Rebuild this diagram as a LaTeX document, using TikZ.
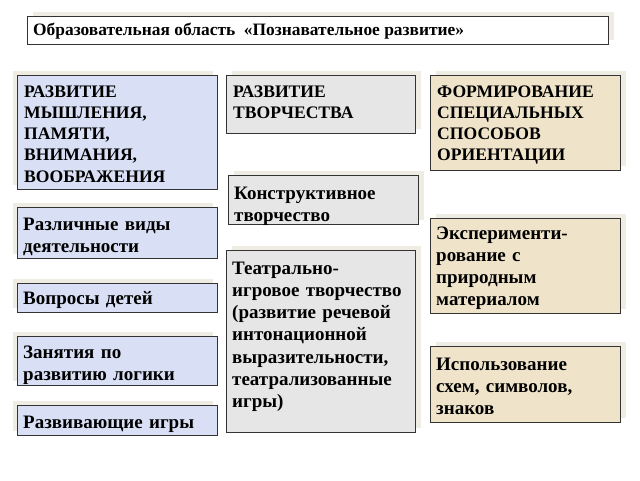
\documentclass[tikz,border=0pt]{standalone}
\usepackage{fontspec}
\setmainfont{Liberation Serif}
\usetikzlibrary{shadows,calc}
\definecolor{cL}{HTML}{D9E0F6}
\definecolor{cM}{HTML}{E6E6E6}
\definecolor{cR}{HTML}{EFE4CA}
\definecolor{cS}{HTML}{EEECE3}
\definecolor{cB}{HTML}{333333}
\tikzset{
  bx/.style={draw=cB, line width=1.4pt, rectangle, inner sep=0pt},
  shL/.style={general shadow={shadow xshift=-5pt, shadow yshift=5pt, fill=cS}},
  shR/.style={general shadow={shadow xshift=5pt, shadow yshift=5pt, fill=cS}},
  txt/.style={anchor=base west, align=left, inner sep=0pt, font=\fontsize{19}{22.3}\selectfont\bfseries},
  txtcaps/.style={anchor=base west, align=left, inner sep=0pt, font=\fontsize{17.6}{21.3}\selectfont\bfseries},
}
\begin{document}
\begin{tikzpicture}[x=1pt,y=-1pt]
\useasboundingbox[fill=white] (0,0) rectangle (640,480);
% title
\node[bx, fill=white, shR, anchor=north west, minimum width=581pt, minimum height=28pt] (title) at (27,16) {};
\node[anchor=west, inner sep=0pt, font=\fontsize{17.4}{19}\selectfont\bfseries] (titletext) at ($(title.west)+(6,0.5)$) {Образовательная область \ «Познавательное развитие»};
% left column
\node[bx, fill=cL, shL, anchor=north west, minimum width=200pt, minimum height=114pt] (l1) at (17,75) {};
\node[txtcaps, text width=195pt] (l1t) at (24,97) {РАЗВИТИЕ\\МЫШЛЕНИЯ,\\ПАМЯТИ,\\ВНИМАНИЯ,\\ВООБРАЖЕНИЯ};
\node[bx, fill=cL, shL, anchor=north west, minimum width=200pt, minimum height=51pt] (l2) at (17,207) {};
\node[txt, text width=195pt] (l2t) at (23,230) {Различные виды\\деятельности};
\node[bx, fill=cL, shL, anchor=north west, minimum width=200pt, minimum height=29pt] (l3) at (17,283) {};
\node[txt, text width=195pt] (l3t) at (23,304) {Вопросы детей};
\node[bx, fill=cL, shL, anchor=north west, minimum width=200pt, minimum height=49pt] (l4) at (17,336) {};
\node[txt, text width=195pt] (l4t) at (23,358) {Занятия по\\развитию логики};
\node[bx, fill=cL, shL, anchor=north west, minimum width=200pt, minimum height=30pt] (l5) at (17,405) {};
\node[txt, text width=195pt] (l5t) at (23,428) {Развивающие игры};
% middle column
\node[bx, fill=cM, shR, anchor=north west, minimum width=189pt, minimum height=58pt] (m1) at (226,75) {};
\node[txtcaps, text width=185pt] (m1t) at (233,97) {РАЗВИТИЕ\\ТВОРЧЕСТВА};
\node[bx, fill=cM, shR, anchor=north west, minimum width=190pt, minimum height=49pt] (m2) at (228,175) {};
\node[txt, text width=185pt] (m2t) at (234,199) {Конструктивное\\творчество};
\node[bx, fill=cM, shR, anchor=north west, minimum width=189pt, minimum height=182pt] (m3) at (226,250) {};
\node[txt, text width=185pt] (m3t) at (232,274) {Театрально-\\игровое творчество\\(развитие речевой\\интонационной\\выразительности,\\театрализованные\\игры)};
% right column
\node[bx, fill=cR, shR, anchor=north west, minimum width=190pt, minimum height=95pt] (r1) at (430,75) {};
\node[txtcaps, text width=185pt] (r1t) at (437,97) {ФОРМИРОВАНИЕ\\СПЕЦИАЛЬНЫХ\\СПОСОБОВ\\ОРИЕНТАЦИИ};
\node[bx, fill=cR, shR, anchor=north west, minimum width=190pt, minimum height=95pt] (r2) at (430,218) {};
\node[txt, text width=185pt] (r2t) at (436,239) {Эксперименти-\\рование с\\природным\\материалом};
\node[bx, fill=cR, shR, anchor=north west, minimum width=190pt, minimum height=76pt] (r3) at (430,346) {};
\node[txt, text width=185pt] (r3t) at (436,370) {Использование\\схем, символов,\\знаков};
\end{tikzpicture}
\end{document}
